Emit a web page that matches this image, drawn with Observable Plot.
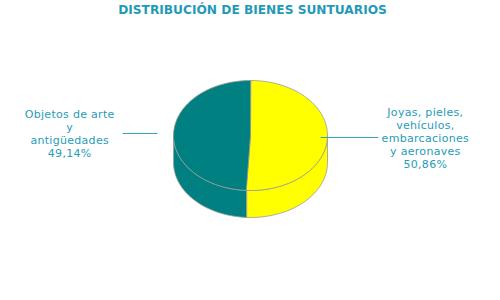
<!DOCTYPE html>
<html>
<head>
<meta charset="utf-8">
<script src="https://cdn.jsdelivr.net/npm/d3@7"></script>
<script src="https://cdn.jsdelivr.net/npm/@observablehq/plot@0.6"></script>
<style>
  html, body { margin: 0; padding: 0; background: #fff; }
  svg { font-family: "DejaVu Sans", Verdana, sans-serif; }
  .lbl text { letter-spacing: 0.3px; }
</style>
</head>
<body>
<div id="chart"></div>
<script>
// ---- data ----
const title = "DISTRIBUCIÓN DE BIENES SUNTUARIOS";
const categories = ["Joyas, pieles,\nvehículos,\nembarcaciones\ny aeronaves", "Objetos de arte\ny\nantigüedades"];
const values = [50.86, 49.14];
const colors = ["#FFFF00", "#008080"];

// ---- layout ----
const W = 500, H = 300;
const cx = 250, cy = 135, rx = 77, ry = 55, depth = 27;
const textColor = "#259cba";
const edge = "#9a9a9a";

const pie = d3.pie().sort(null).startAngle(0).endAngle(2 * Math.PI)(values);
const px = a => cx + rx * Math.sin(a);
const py = a => cy - ry * Math.cos(a);
const steps = 120;

function arc(a0, a1, dy = 0) {
  const n = Math.max(2, Math.ceil(steps * (a1 - a0) / (2 * Math.PI)));
  return d3.range(n + 1).map(i => {
    const a = a0 + (a1 - a0) * i / n;
    return {x: px(a), y: py(a) + dy};
  });
}

const marks = [];
// side walls (front half only: angles between PI/2 and 3PI/2)
pie.forEach((s, i) => {
  const a0 = Math.max(s.startAngle, Math.PI / 2);
  const a1 = Math.min(s.endAngle, 3 * Math.PI / 2);
  if (a1 > a0) {
    const pts = arc(a0, a1).concat(arc(a0, a1, depth).reverse());
    marks.push(Plot.line(pts, {x: "x", y: "y", curve: "linear-closed", fill: colors[i], stroke: edge, strokeWidth: 0.8}));
  }
});
// top faces
pie.forEach((s, i) => {
  const pts = [{x: cx, y: cy}].concat(arc(s.startAngle, s.endAngle));
  marks.push(Plot.line(pts, {x: "x", y: "y", curve: "linear-closed", fill: colors[i], stroke: edge, strokeWidth: 0.8}));
});

// leader lines and labels
const fmt = v => v.toFixed(2).replace(".", ",") + "%";
const labels = pie.map((s, i) => {
  const mid = (s.startAngle + s.endAngle) / 2;
  const right = Math.sin(mid) > 0;
  const ly = py(mid) + (right ? 0.5 : -0.5);
  const x1 = right ? cx + 0.91 * rx : cx - 1.21 * rx;
  const x2 = right ? cx + 1.66 * rx : cx - 1.66 * rx;
  const tx = right ? x2 + 47 : x2 - 53;
  return {x1, x2, y: ly, tx, text: categories[i] + "\n" + fmt(values[i])};
});
marks.push(Plot.link(labels, {x1: "x1", x2: "x2", y1: "y", y2: "y", stroke: "#33a3bf", strokeWidth: 1}));
marks.push(Plot.text(labels, {x: "tx", y: "y", text: "text", fill: textColor, fontSize: 11, lineHeight: 1.18, textAnchor: "middle", lineAnchor: "middle", className: "lbl"}));

// title
marks.push(Plot.text([title], {x: () => 252, y: () => 10, text: d => d, fill: "#1f9ab8", fontSize: 12.2, fontWeight: "bold", textAnchor: "middle", lineAnchor: "middle"}));

const chart = Plot.plot({
  width: W, height: H,
  margin: 0,
  x: {type: "linear", domain: [0, W], range: [0, W], axis: null},
  y: {type: "linear", domain: [0, H], range: [0, H], axis: null},
  style: {fontFamily: "'DejaVu Sans', Verdana, sans-serif", background: "#fff"},
  marks
});
document.getElementById("chart").appendChild(chart);
</script>
</body>
</html>
